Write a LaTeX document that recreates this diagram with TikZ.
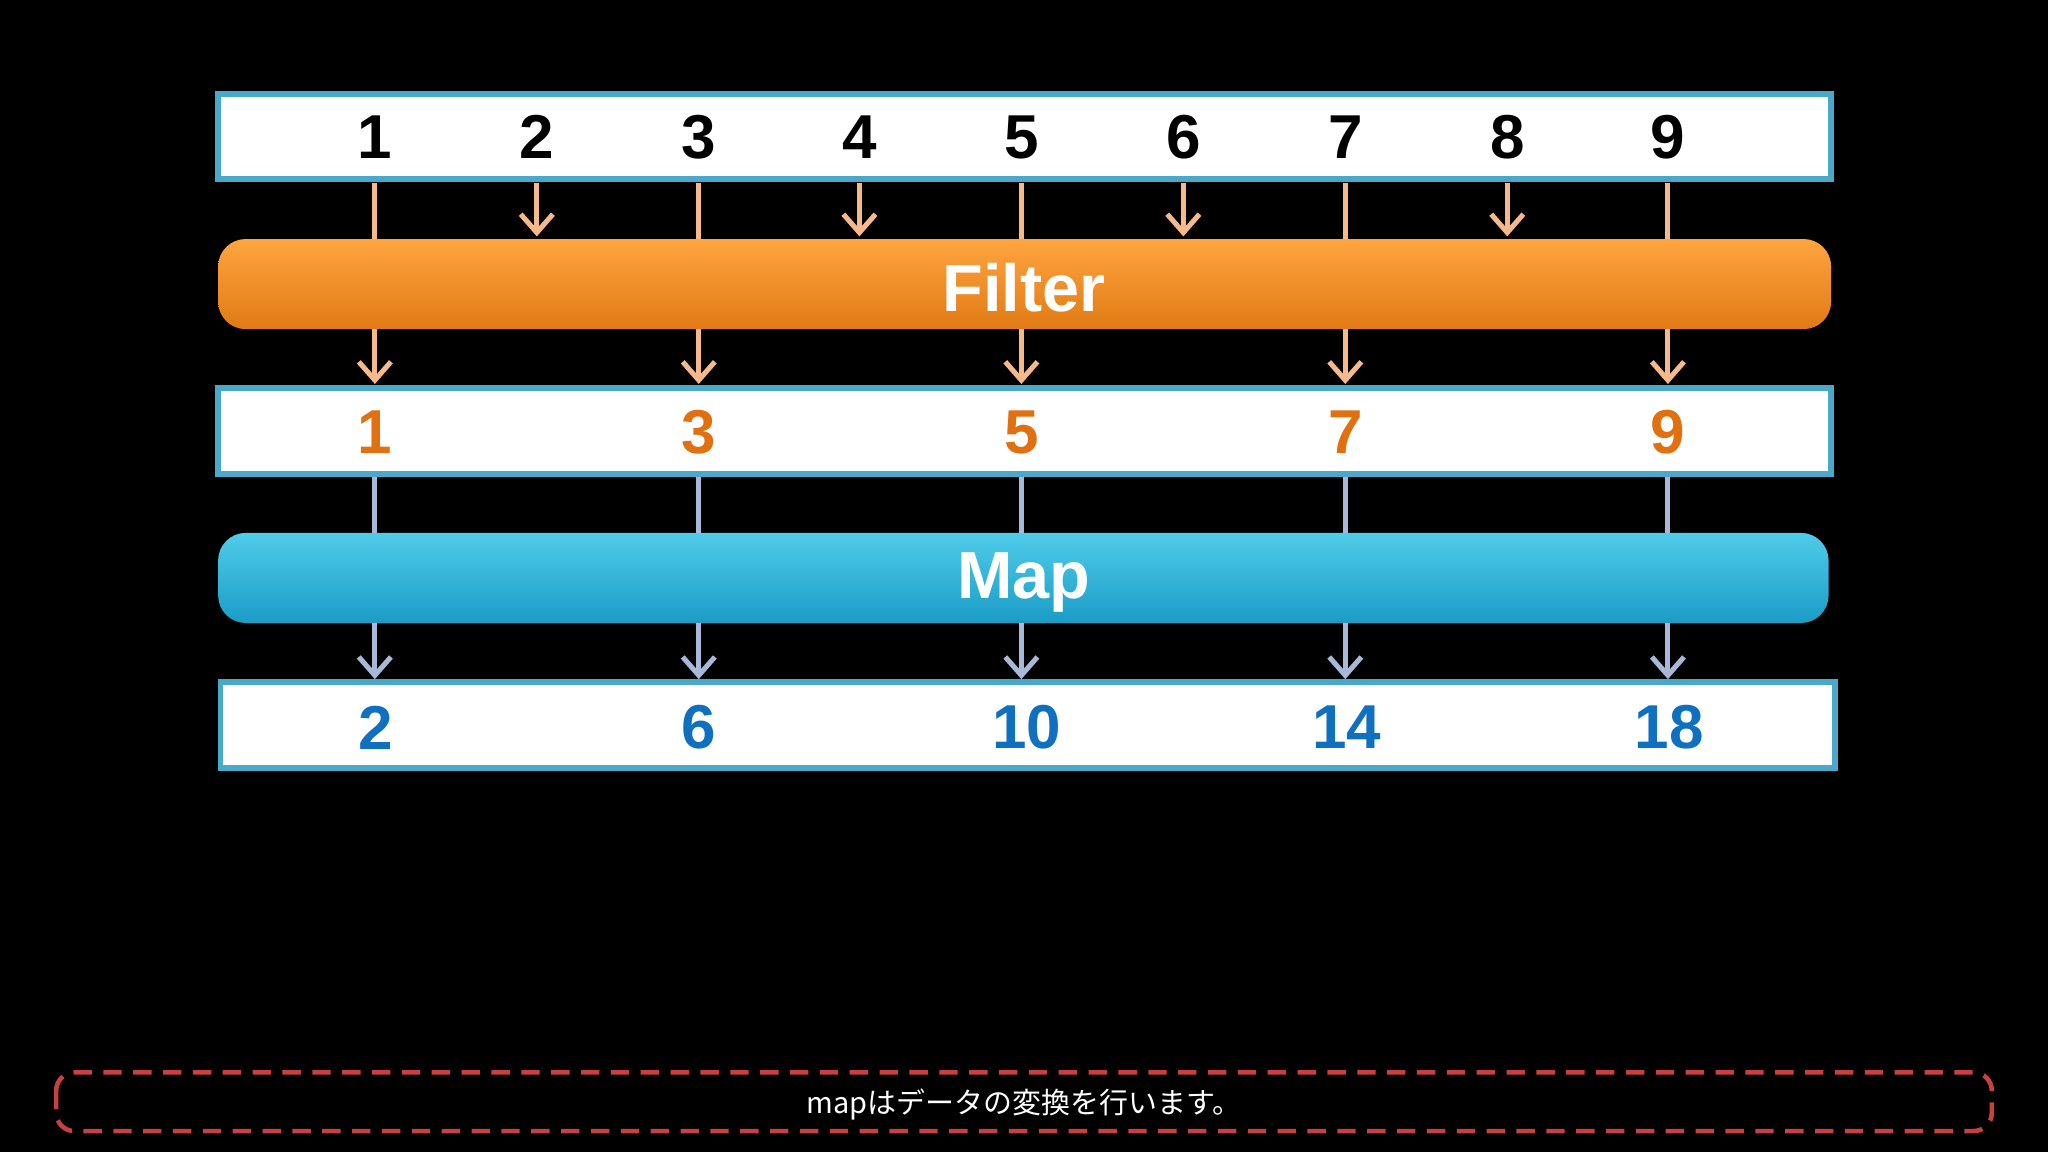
\documentclass[tikz,border=0pt]{standalone}
\usepackage{fontspec}
\setmainfont{Liberation Sans}
\newfontfamily\cjk{Noto Sans CJK JP}
\usetikzlibrary{arrows.meta}
\definecolor{bordc}{HTML}{4AA8C8}
\definecolor{oarr}{HTML}{F5B98A}
\definecolor{barr}{HTML}{A8B8D8}
\definecolor{onum}{HTML}{E07010}
\definecolor{bnum}{HTML}{1070C0}
\definecolor{otop}{HTML}{FFA540}
\definecolor{obot}{HTML}{E07A14}
\definecolor{ctop}{HTML}{50CCEA}
\definecolor{cbot}{HTML}{1A9CC6}
\definecolor{subred}{HTML}{C84040}
\tikzset{
  rowbox/.style={draw=bordc,line width=1.2pt,fill=white},
  num/.style={font=\fontsize{13.5}{14}\selectfont\bfseries},
  bartext/.style={font=\fontsize{14.5}{15}\selectfont\bfseries,text=white},
  oline/.style={draw=oarr,line width=1.1pt},
  bline/.style={draw=barr,line width=1.1pt},
  tip/.style={-{Straight Barb[length=4pt,width=7pt,line width=1.1pt]}}
}
\begin{document}
\begin{tikzpicture}[x=0.01cm,y=-0.01cm]
\fill[black] (0,0) rectangle (1568,882);
\useasboundingbox (0,0) rectangle (1568,882);
% boxes
\draw[rowbox] (167,72) rectangle (1402,137);
\draw[rowbox] (167,297) rectangle (1402,363);
\draw[rowbox] (169,522) rectangle (1405,588);
\shade[top color=otop,bottom color=obot,rounded corners=6pt] (167,183) rectangle (1402,252);
\shade[top color=ctop,bottom color=cbot,rounded corners=6pt] (167,408) rectangle (1400,477);
\node[bartext] (filter) at (784,220) {Filter};
\node[bartext] (map) at (784,446) {Map};
% top numbers
\foreach \i/\x in {1/287,2/411,3/535,4/658,5/782,6/906,7/1030,8/1154,9/1277}{
  \node[num] (t\i) at (\x,105) {\i};
  \coordinate (ts\i) at (\x,140);
}
\foreach \i/\x in {1/287,3/535,5/782,7/1030,9/1277}{
  \coordinate (fe\i) at (\x,183);
  \draw[oline] (ts\i) -- (fe\i);
}
\foreach \i/\x in {2/411,4/658,6/906,8/1154}{
  \coordinate (fe\i) at (\x,181);
  \draw[oline,tip] (ts\i) -- (fe\i);
}
% second row
\foreach \i/\x/\v in {1/287/1,3/535/3,5/782/5,7/1030/7,9/1277/9}{
  \node[num,text=onum] (m\i) at (\x,331) {\v};
  \coordinate (fo\i) at (\x,252);
  \coordinate (mi\i) at (\x,294);
  \draw[oline,tip] (fo\i) -- (mi\i);
  \coordinate (ms\i) at (\x,365);
  \coordinate (me\i) at (\x,408);
  \draw[bline] (ms\i) -- (me\i);
  \coordinate (mo\i) at (\x,477);
  \coordinate (bi\i) at (\x,520);
  \draw[bline,tip] (mo\i) -- (bi\i);
}
\foreach \i/\x/\v in {1/288/2,3/535/6,5/786/10,7/1031/14,9/1278/18}{
  \node[num,text=bnum] (b\i) at (\x,557) {\v};
}
% subtitle
\draw[subred,line width=1pt,dash pattern=on 4pt off 2.5pt,rounded corners=4pt] (43,821) rectangle (1525,866);
\node[text=white,font=\cjk\fontsize{6.3}{7}\selectfont] (sub) at (784,846) {mapはデータの変換を行います。};
\end{tikzpicture}
\end{document}
